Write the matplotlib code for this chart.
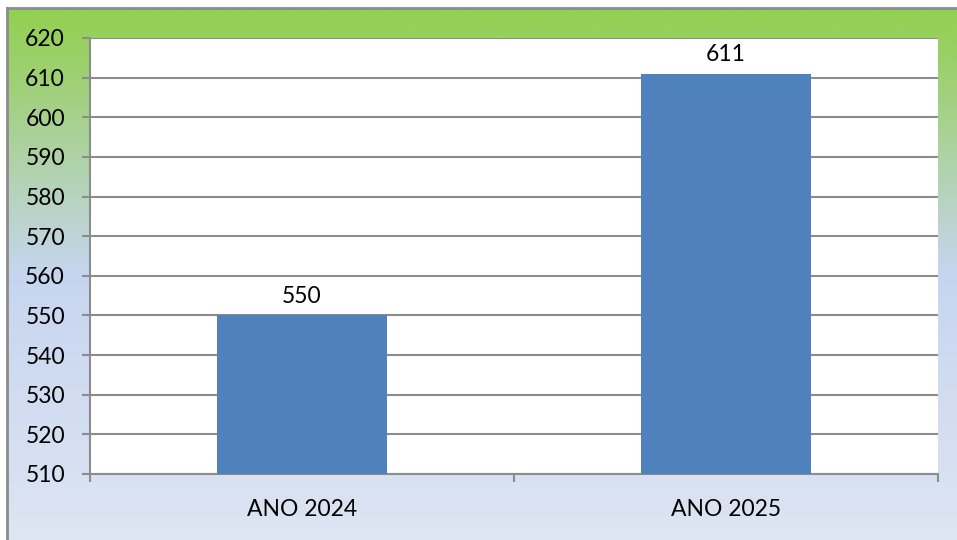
import numpy as np
import matplotlib
matplotlib.use('Agg')
import matplotlib.pyplot as plt
from matplotlib.colors import LinearSegmentedColormap

# data
categories = ['ANO 2024', 'ANO 2025']
values = [550, 611]
y_ticks = list(range(510, 621, 10))

W, H = 957, 540
fig = plt.figure(figsize=(W / 100, H / 100), dpi=100)
fig.patch.set_facecolor('white')

# gradient background (green at top -> light blue at bottom)
bg = fig.add_axes([7 / W, 0, 1 - 7 / W, 1 - 8 / H], zorder=0)
cmap = LinearSegmentedColormap.from_list(
    'bg', [(0.0, '#92D050'), (0.12, '#9DD070'), (0.5, '#C6D5EF'), (1.0, '#DEE5F3')])
grad = np.linspace(0, 1, 256).reshape(-1, 1)
bg.imshow(grad, aspect='auto', cmap=cmap, extent=[0, 1, 0, 1], origin='upper')
bg.set_xlim(0, 1)
bg.set_ylim(0, 1)
bg.set_xticks([])
bg.set_yticks([])
for side in ['right', 'bottom']:
    bg.spines[side].set_visible(False)
for side in ['left', 'top']:
    bg.spines[side].set_color('#8C8C8C')
    bg.spines[side].set_linewidth(2)

FS = 16.5

# plot area
ax = fig.add_axes([90 / W, 66 / H, (938 - 90) / W, (474 - 38) / H], zorder=1)
ax.set_facecolor('white')
x = np.arange(len(categories))
bars = ax.bar(x, values, width=0.4, color='#4F81BD', zorder=3)
ax.set_xlim(-0.5, len(categories) - 0.5)
ax.set_ylim(510, 620)
ax.set_yticks(y_ticks)
ax.grid(axis='y', color='#8C8C8C', linewidth=1.5, zorder=1)
ax.set_axisbelow(True)

for b, v in zip(bars, values):
    ax.annotate(str(v), (b.get_x() + b.get_width() / 2, v), xytext=(0, 6),
                textcoords='offset points', ha='center', va='bottom',
                fontsize=FS, family='Lato', color='black')

ax.set_xticks(x)
ax.set_xticklabels(categories)
ax.set_xticks(np.arange(-0.5, len(categories)), minor=True)
ax.tick_params(axis='x', which='major', length=0, pad=18, labelsize=FS)
ax.tick_params(axis='x', which='minor', length=6, width=1.5, color='#8C8C8C')
ax.tick_params(axis='y', length=6, width=1.5, color='#8C8C8C', labelsize=FS, pad=12)
for lab in ax.get_xticklabels() + ax.get_yticklabels():
    lab.set_family('Lato')

for side in ['top', 'right']:
    ax.spines[side].set_visible(False)
for side in ['left', 'bottom']:
    ax.spines[side].set_color('#8C8C8C')
    ax.spines[side].set_linewidth(1.5)

fig.savefig('out.png', dpi=100)
